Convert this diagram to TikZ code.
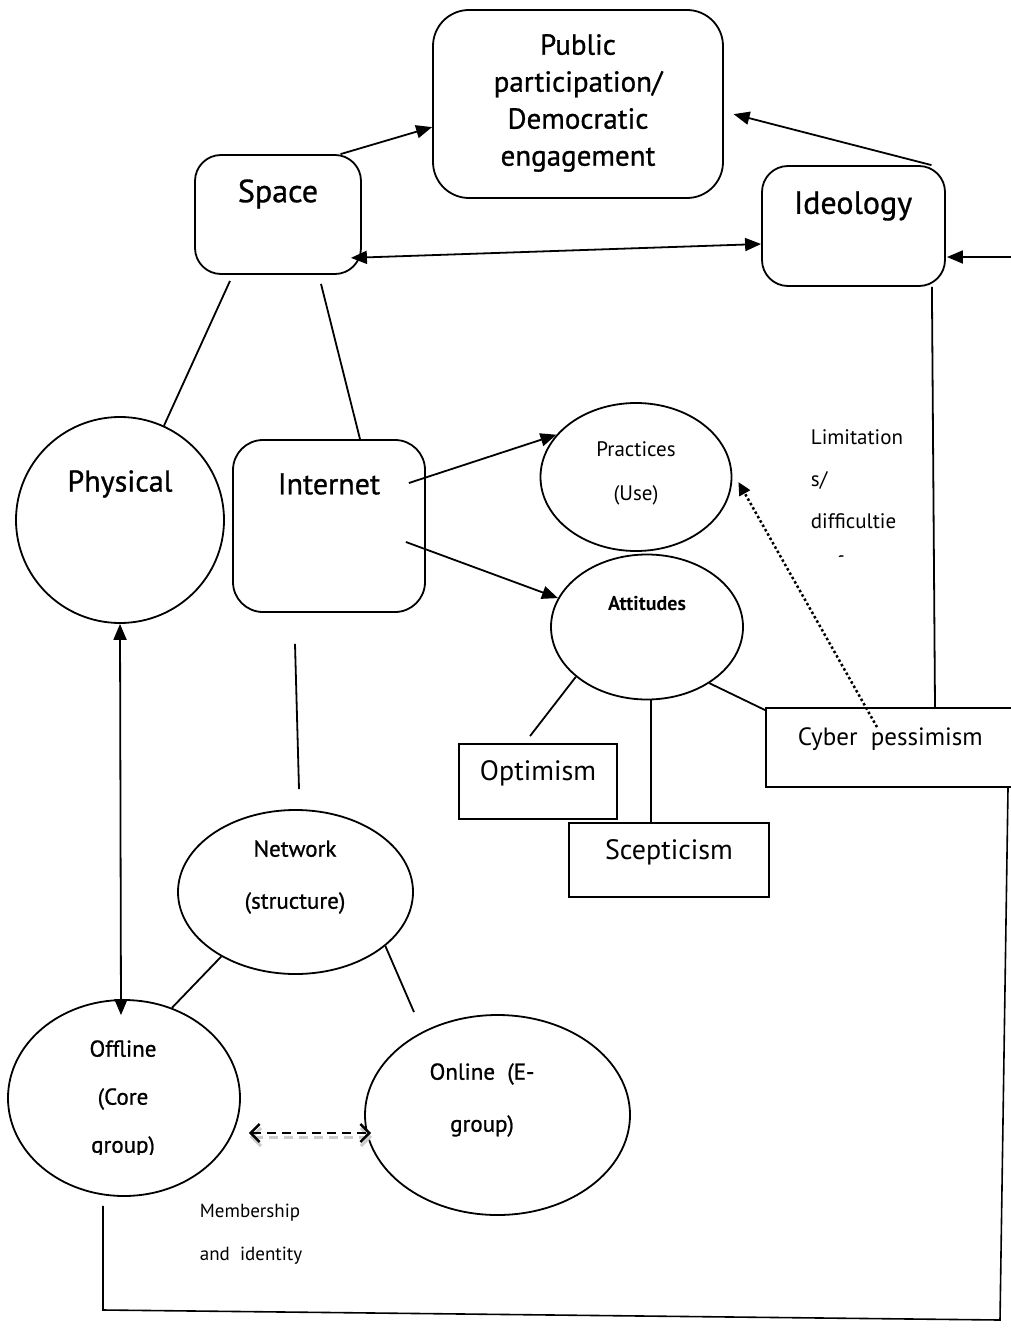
\documentclass[tikz,border=0pt]{standalone}
\usepackage{fontspec}
\setmainfont{PT Sans}
\newfontfamily\medf[FakeBold=0.9]{PT Sans}
\usetikzlibrary{arrows.meta,shapes.geometric,calc}
\newcommand{\fs}[2]{\fontsize{#1}{#2}\selectfont}
\begin{document}
\begin{tikzpicture}[x=1pt,y=-1pt,line width=1.8pt,
  rbox/.style={draw,rectangle,rounded corners=#1,inner sep=0pt},
  ell/.style={draw,ellipse,inner sep=0pt},
  sbox/.style={draw,rectangle,inner sep=0pt},
  txt/.style={inner sep=0pt,align=center},
  tip/.style={-{Triangle[length=16pt,width=13pt]}},
  dtip/.style={{Triangle[length=16pt,width=13pt]}-{Triangle[length=16pt,width=13pt]}},
  otip/.style={{Straight Barb[length=9pt,width=18pt]}-{Straight Barb[length=9pt,width=18pt]}}
]
\useasboundingbox[fill=white] (0,0) rectangle (1010,1340);

% shapes
\node[rbox=36pt,minimum width=290pt,minimum height=188pt] (pub) at (578,104) {};
\node[rbox=26pt,minimum width=166pt,minimum height=119pt] (space) at (278,214.5) {};
\node[rbox=26pt,minimum width=183pt,minimum height=120pt] (ideo) at (853.5,226) {};
\node[rbox=30pt,minimum width=192pt,minimum height=172pt] (inet) at (329,526) {};
\node[ell,minimum width=208pt,minimum height=206pt] (phys) at (120,520) {};
\node[ell,minimum width=191pt,minimum height=148pt] (prac) at (636,477) {};
\node[ell,minimum width=192pt,minimum height=145pt] (att) at (647,627) {};
\node[sbox,minimum width=250pt,minimum height=79pt] (cyber) at (891,747.5) {};
\node[sbox,minimum width=158pt,minimum height=75pt] (opt) at (538,781.5) {};
\node[sbox,minimum width=200pt,minimum height=74pt] (scep) at (669,860) {};
\node[ell,minimum width=235pt,minimum height=164pt] (net) at (295.5,892) {};
\node[ell,minimum width=232pt,minimum height=196pt] (off) at (124,1098) {};
\node[ell,minimum width=265pt,minimum height=200pt] (on) at (497.5,1115) {};

% texts
\node[txt,font=\medf\fs{29}{37}] (tpub) at (578,103) {Public\\participation/\\Democratic\\engagement};
\node[txt,font=\medf\fs{32}{38}] (tspace) at (278,194) {Space};
\node[txt,font=\medf\fs{32}{38}] (tideo) at (853,206) {Ideology};
\node[txt,font=\medf\fs{30}{38}] (tinet) at (329,484) {Internet};
\node[txt,font=\medf\fs{30}{38}] (tphys) at (120,484) {Physical};
\node[txt,font=\fs{21}{44}] (tprac) at (636,473) {Practices\\(Use)};
\node[txt,font=\bfseries\fs{20}{30}] (tatt) at (647,604) {Attitudes};
\begin{scope}
\clip (790,400) rectangle (930,556);
\node[txt,align=left,anchor=north west,font=\fs{21}{42}] (tlim) at (810,429) {Limitation\\s/\\difficultie\\s of};
\end{scope}
\node[txt,font=\fs{28}{34}] (topt) at (538,773) {Optimism};
\node[txt,font=\fs{28}{34}] (tscep) at (669,852) {Scepticism};
\node[txt,anchor=west,font=\fs{25}{34}] (tcyb) at (797,739) {Cyber~ pessimism};
\node[txt,font=\medf\fs{23}{52}] (tnet) at (295,877) {Network\\(structure)};
\begin{scope}
\clip (0,1010) rectangle (240,1154);
\node[txt,font=\medf\fs{23}{48}] (toff) at (123,1099) {Offline\\(Core\\group)};
\end{scope}
\node[txt,font=\medf\fs{23}{52}] (ton) at (482,1100) {Online~ (E-\\group)};
\node[txt,align=left,anchor=west,font=\fs{19}{43}] (tmem) at (199,1234) {Membership\\and~ identity};

% connectors
\draw[tip] (space.44) -- (pub.189);
\draw[tip,shorten >=10pt] (ideo.38) -- (pub.-3);
\draw[dtip] ($(space.south east)+(-11,-17)$) -- ($(ideo.west)+(0,18)$);
\coordinate (redge) at (1012,257);
\draw[tip] (redge) -- ($(ideo.east)+(1,31)$);
\draw ($(space.south)+(-48,6)$) -- (phys.65);
\draw ($(space.south)+(43,9)$) -- ($(inet.north)+(31,0)$);
\draw[tip] ($(inet.east)+(-17,-43)$) -- (prac.152);
\draw[tip] ($(inet.east)+(-20,16)$) -- (att.162);
\draw[-{Triangle[length=13pt,width=12pt]},dash pattern=on 2.5pt off 2.5pt,line width=2.5pt] ($(cyber.north)+(-14,20)$) -- ($(prac.east)+(6,5)$);
\draw ($(ideo.south east)+(-14,0)$) -- ($(cyber.north)+(44,0)$);
\draw (att.215) -- ($(opt.north)+(-8,-7)$);
\draw ($(att.south)+(4,0)$) -- ($(scep.north)+(-18,0)$);
\draw (att.-42) -- ($(cyber.north west)+(0,3)$);
\draw ($(inet.south)+(-34,31)$) -- ($(net.north)+(3.5,-20)$);
\draw (net.221) -- (off.62);
\draw (net.-31) -- ($(on.north)+(-83.5,-2)$);
\draw[dtip] (phys.south) -- ($(off.north)+(-3,16)$);
\draw[otip,dash pattern=on 9pt off 6pt,gray!40,line width=3pt] ($(off.east)+(9,39)$) -- ($(on.west)+(8,22)$);
\draw[otip,dash pattern=on 9pt off 6pt,line width=2.4pt] ($(off.east)+(8,35)$) -- ($(on.west)+(7,18)$);
\coordinate (bl) at (103,1310);
\coordinate (br) at (1000,1320);
\draw[line width=1.6pt] ($(off.south)+(-21,9)$) -- (bl) -- (br) -- ($(cyber.south)+(117,0)$);
\end{tikzpicture}
\end{document}
